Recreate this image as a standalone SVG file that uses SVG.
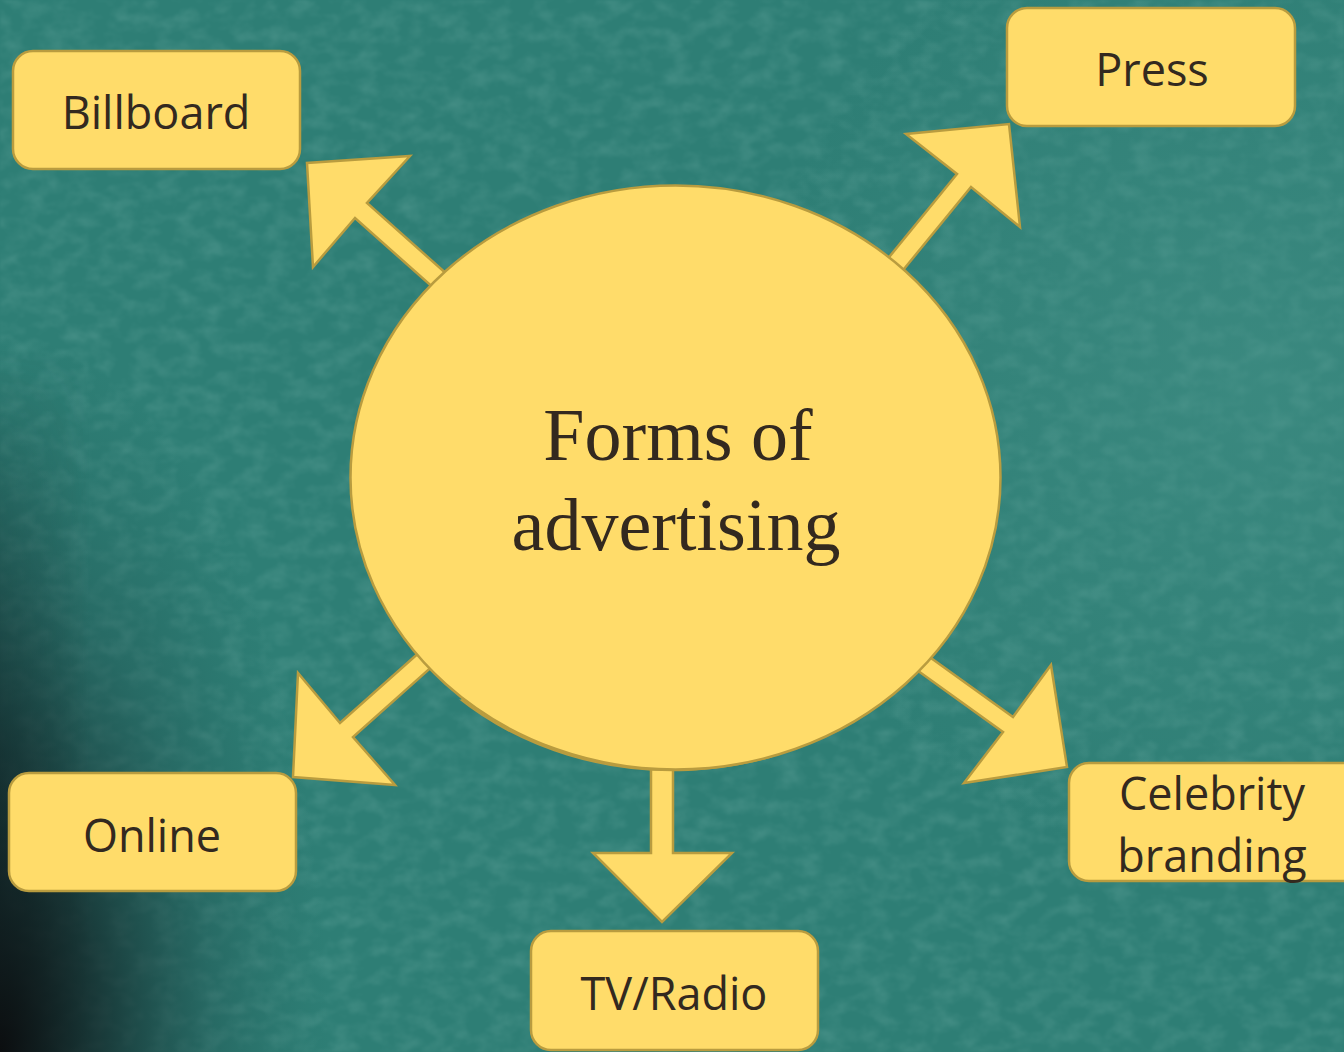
<svg xmlns="http://www.w3.org/2000/svg" width="1344" height="1052" viewBox="0 0 1344 1052">
  <defs>
    <radialGradient id="vignette" cx="0" cy="1052" r="1" gradientUnits="userSpaceOnUse" gradientTransform="translate(0 1052) scale(330 720) translate(0 -1052)">
      <stop offset="0" stop-color="#0b0c0e" stop-opacity="0.97"/>
      <stop offset="0.3" stop-color="#101d20" stop-opacity="0.72"/>
      <stop offset="0.65" stop-color="#16383a" stop-opacity="0.28"/>
      <stop offset="1" stop-color="#1d5a55" stop-opacity="0"/>
    </radialGradient>
    <linearGradient id="edge" x1="0" y1="0" x2="90" y2="0" gradientUnits="userSpaceOnUse">
      <stop offset="0" stop-color="#0f2224" stop-opacity="0.6"/>
      <stop offset="1" stop-color="#0f2224" stop-opacity="0"/>
    </linearGradient>
    <linearGradient id="edgeFade" x1="0" y1="350" x2="0" y2="750" gradientUnits="userSpaceOnUse">
      <stop offset="0" stop-color="#fff" stop-opacity="0"/>
      <stop offset="1" stop-color="#fff" stop-opacity="1"/>
    </linearGradient>
    <mask id="edgeMask">
      <rect x="0" y="0" width="120" height="1052" fill="url(#edgeFade)"/>
    </mask>
    <radialGradient id="glow" cx="1250" cy="380" r="500" gradientUnits="userSpaceOnUse">
      <stop offset="0" stop-color="#4a968c" stop-opacity="0.45"/>
      <stop offset="1" stop-color="#4a968c" stop-opacity="0"/>
    </radialGradient>
    <filter id="chalk" x="0" y="0" width="100%" height="100%">
      <feTurbulence type="fractalNoise" baseFrequency="0.045 0.07" numOctaves="4" seed="7"/>
      <feColorMatrix type="matrix" values="0 0 0 0 0.5  0 0 0 0 0.78  0 0 0 0 0.72  0 0 0 1.4 -0.55"/>
      <feGaussianBlur stdDeviation="1"/>
    </filter>
    <clipPath id="lowerLeft">
      <rect x="425" y="690" width="335" height="230"/>
    </clipPath>
    <style>
      .box { fill: #ffdc6a; stroke: #b99c3f; stroke-width: 2.5; }
      .arrow { fill: #ffdc6a; stroke: #b99c3f; stroke-width: 2.5; stroke-linejoin: miter; }
      .label { font-family: "Open Sans", "Noto Sans", "Liberation Sans", sans-serif; font-size: 45px; fill: #33291f; text-anchor: middle; }
      .title { font-family: "Liberation Serif", "Times New Roman", serif; font-size: 74px; fill: #33291f; text-anchor: middle; }
    </style>
  </defs>

  <!-- chalkboard background -->
  <rect x="0" y="0" width="1344" height="1052" fill="#2e7e75"/>
  <rect x="0" y="0" width="1344" height="1052" filter="url(#chalk)" opacity="0.2"/>
  <rect x="0" y="0" width="1344" height="1052" fill="url(#glow)"/>
  <rect x="0" y="0" width="120" height="1052" fill="url(#edge)" mask="url(#edgeMask)"/>
  <rect x="0" y="0" width="1344" height="1052" fill="url(#vignette)"/>

  <!-- block arrows radiating from the hub -->
  <g id="connectors">
    <polygon class="arrow" points="449,276 367,203 410,156 307,163 313,267 355,218 437,291"/>
    <polygon class="arrow" points="881,267 957,174 906,134 1009,124 1020,227 971,187 895,280"/>
    <polygon class="arrow" points="422,650 340,723 298,673 293,777 395,785 353,737 435,664"/>
    <polygon class="arrow" points="651,740 651,853 593,853 662,922 732,853 673,853 673,740"/>
    <polygon class="arrow" points="924,653 1013,717 1051,665 1067,767 964,783 1003,732 914,668"/>
  </g>

  <!-- central hub, with a slightly skewed copy peeking out along the lower edge -->
  <g id="hub">
    <ellipse class="box" cx="675.5" cy="479" rx="325" ry="291" transform="rotate(-2.5 675.5 479)" clip-path="url(#lowerLeft)"/>
    <ellipse class="box" cx="675.5" cy="477.5" rx="325" ry="292"/>
    <text class="title" x="678" y="460">Forms of</text>
    <text class="title" x="676" y="550">advertising</text>
  </g>

  <g id="billboard">
    <rect class="box" x="13" y="51" width="287" height="118" rx="20"/>
    <text class="label" x="156" y="129">Billboard</text>
  </g>

  <g id="press">
    <rect class="box" x="1007" y="8" width="288" height="118" rx="20"/>
    <text class="label" x="1152" y="86">Press</text>
  </g>

  <g id="online">
    <rect class="box" x="9" y="773" width="287" height="118" rx="20"/>
    <text class="label" x="152" y="852">Online</text>
  </g>

  <g id="tv-radio">
    <rect class="box" x="531" y="931" width="287" height="119" rx="20"/>
    <text class="label" x="674" y="1010">TV/Radio</text>
  </g>

  <g id="celebrity-branding">
    <rect class="box" x="1069" y="763" width="300" height="118" rx="20"/>
    <text class="label" x="1212" y="810">Celebrity</text>
    <text class="label" x="1212" y="872">branding</text>
  </g>
</svg>
